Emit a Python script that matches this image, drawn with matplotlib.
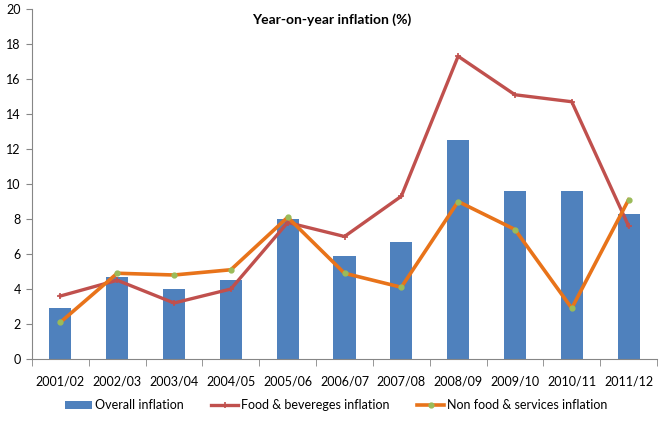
import matplotlib.pyplot as plt
import numpy as np

plt.rcParams['font.family'] = ['Lato', 'DejaVu Sans']

years = ['2001/02', '2002/03', '2003/04', '2004/05', '2005/06', '2006/07',
         '2007/08', '2008/09', '2009/10', '2010/11', '2011/12']
overall = [2.9, 4.7, 4.0, 4.5, 8.0, 5.9, 6.7, 12.5, 9.6, 9.6, 8.3]
food = [3.6, 4.5, 3.2, 4.0, 7.8, 7.0, 9.3, 17.3, 15.1, 14.7, 7.6]
non_food = [2.1, 4.9, 4.8, 5.1, 8.1, 4.9, 4.1, 9.0, 7.4, 2.9, 9.1]

fig = plt.figure(figsize=(6.64, 4.21), dpi=100)
ax = fig.add_axes([32 / 664, 1 - 359 / 421, 625 / 664, 350 / 421])

x = np.arange(len(years))
b = ax.bar(x, overall, width=0.39, color='#4F81BD', label='Overall inflation', zorder=2)
l1, = ax.plot(x, food, color='#C0504D', lw=2.4, marker='+', ms=5, mew=1.2,
              label='Food & bevereges inflation', zorder=3)
l2, = ax.plot(x, non_food, color='#E8731A', lw=2.6, marker='o', ms=3.5,
              mfc='#9BBB59', mec='#9BBB59', label='Non food & services inflation', zorder=4)

ax.set_xlim(-0.5, len(years) - 0.5)
ax.set_ylim(0, 20)
ax.set_yticks(range(0, 21, 2))
ax.set_xticks(x)
ax.set_xticklabels(years)
ax.set_xticks(np.arange(-0.5, len(years)), minor=True)
ax.tick_params(axis='x', which='major', length=0, pad=12, labelsize=9)
ax.tick_params(axis='x', which='minor', length=5, color='#868686')
ax.tick_params(axis='y', length=4, color='#868686', labelsize=9, pad=4)
for s in ['top', 'right']:
    ax.spines[s].set_visible(False)
for s in ['left', 'bottom']:
    ax.spines[s].set_color('#868686')

fig.text(0.5, 1 - 20 / 421, 'Year-on-year inflation (%)',
         ha='center', va='center', fontsize=10, fontweight='bold')

fig.legend([b, l1, l2], [b.get_label(), l1.get_label(), l2.get_label()],
           loc='center', ncol=3, frameon=False,
           fontsize=9, bbox_to_anchor=(336 / 664, 1 - 405 / 421), handlelength=2.2,
           handleheight=0.6, columnspacing=2.2, handletextpad=0.2)

fig.savefig('out.png', dpi=100)
